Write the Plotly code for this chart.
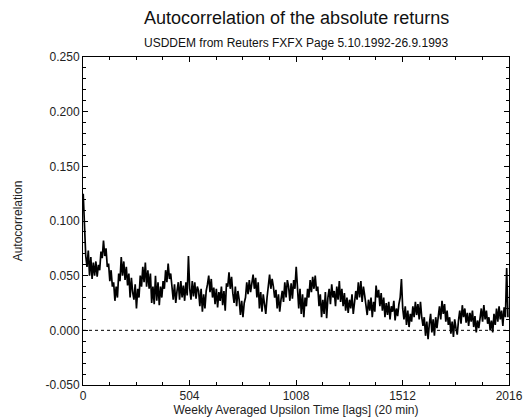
import plotly.graph_objects as go

lag_step = 6
first_lag = 1
acf_milli = [
    125, 90, 68, 58, 73, 50, 67, 47,
    62, 50, 63, 49, 60, 55, 72, 66,
    82, 68, 75, 58, 61, 45, 55, 40,
    44, 27, 40, 30, 52, 45, 67, 50,
    63, 46, 58, 41, 52, 30, 48, 35,
    28, 42, 20, 38, 30, 50, 40, 58,
    44, 62, 40, 55, 38, 52, 25, 40,
    24, 50, 27, 44, 23, 40, 30, 45,
    38, 55, 44, 61, 47, 52, 40, 28,
    42, 25, 36, 44, 28, 45, 30, 41,
    27, 44, 32, 68, 38, 28, 45, 31,
    44, 29, 40, 36, 22, 38, 17, 33,
    20, 36, 42, 50, 35, 47, 30, 39,
    24, 38, 21, 35, 27, 40, 23, 36,
    18, 43, 40, 53, 38, 49, 34, 25,
    40, 22, 36, 28, 14, 27, 12, 25,
    30, 44, 33, 46, 35, 42, 51, 38,
    48, 30, 44, 20, 35, 17, 33, 24,
    15, 30, 42, 51, 38, 47, 40, 30,
    37, 20, 33, 17, 28, 36, 26, 44,
    30, 46, 40, 27, 43, 29, 46, 38,
    58, 35, 20, 38, 15, 33, 12, 30,
    22, 38, 30, 46, 35, 49, 38, 50,
    36, 40, 22, 33, 12, 28, 15, 35,
    11, 30, 38, 24, 42, 30, 36, 22,
    40, 28, 45, 26, 38, 22, 34, 18,
    30, 16, 28, 20, 33, 15, 26, 36,
    28, 44, 30, 45, 26, 40, 32, 24,
    14, 28, 18, 30, 12, 26, 17, 41,
    30, 37, 22, 34, 18, 30, 12, 25,
    14, 26, 10, 22, 17, 27, 9, 20,
    13, 24, 30, 47, 20, 10, 22, 5,
    18, 3, 15, 8, 22, 12, 26, 14,
    24, 10, 26, 12, 4, 12, -5, 8,
    -8, 6, 15, -2, 10, -5, 12, 2,
    14, 22, 10, 27, 15, 24, 8, 18,
    5, 12, -3, 8, -6, 10, 2, -4,
    9, 18, 6, 23, 12, 20, 7, 16,
    4, 16, 8, 18, 3, 13, -2, 9,
    2, 14, 20, 8, 23, 10, 18, 6,
    12, 0, 9, -2, 15, 5, 20, 8,
    22, 10, 18, 4, 21, 12, 57, 12,
]
lags = [first_lag + lag_step * i for i in range(len(acf_milli))]
acf = [v / 1000 for v in acf_milli]

x_ticks = [0, 504, 1008, 1512, 2016]
y_ticks = [-0.05, 0.0, 0.05, 0.10, 0.15, 0.20, 0.25]
y_tick_labels = ["-0.050", "0.000", "0.050", "0.100", "0.150", "0.200", "0.250"]

title = "Autocorrelation of the absolute returns"
subtitle = "USDDEM from Reuters FXFX Page 5.10.1992-26.9.1993"
x_title = "Weekly Averaged Upsilon Time [lags] (20 min)"
y_title = "Autocorrelation"

FONT = "Liberation Sans, Arial, Helvetica, sans-serif"

fig = go.Figure()
fig.add_trace(go.Scatter(x=lags, y=acf, mode="lines",
                         line=dict(color="black", width=1.7), showlegend=False,
                         hoverinfo="skip"))

fig.add_shape(type="line", xref="paper", yref="y", x0=0, x1=1, y0=0, y1=0,
              line=dict(color="black", width=1, dash="dot"))

fig.update_layout(
    width=526, height=420,
    margin=dict(l=83, r=17, t=57, b=35, autoexpand=False),
    paper_bgcolor="white", plot_bgcolor="white",
    font=dict(family=FONT, size=12, color="#222"),
    annotations=[
        dict(text=title, xref="paper", yref="paper", x=0.5, y=1, yshift=39,
             showarrow=False, font=dict(size=18, color="#111"),
             xanchor="center", yanchor="middle"),
        dict(text=subtitle, xref="paper", yref="paper", x=0.5, y=1, yshift=14,
             showarrow=False, font=dict(size=12, color="#111"),
             xanchor="center", yanchor="middle"),
    ],
)

fig.update_xaxes(
    range=[0, 2016], tickvals=x_ticks, ticktext=[str(t) for t in x_ticks],
    showgrid=False, zeroline=False, showline=True, linecolor="black", linewidth=1,
    mirror="ticks", ticks="inside", ticklen=5, tickcolor="black",
    minor=dict(dtick=126, tick0=0, ticks="inside", ticklen=3, tickcolor="black", showgrid=False),
    title=dict(text=x_title, font=dict(size=12), standoff=3),
    tickfont=dict(size=12), ticklabeloverflow="allow",
)
fig.update_yaxes(
    range=[-0.05, 0.25], tickvals=y_ticks, ticktext=y_tick_labels,
    showgrid=False, zeroline=False, showline=True, linecolor="black", linewidth=1,
    mirror="ticks", ticks="inside", ticklen=5, tickcolor="black",
    minor=dict(dtick=0.01, tick0=0, ticks="inside", ticklen=3, tickcolor="black", showgrid=False),
    title=dict(text=y_title, font=dict(size=12), standoff=20),
    tickfont=dict(size=12),
)

# remove the page's default body margin so the 526x420 figure fills the window exactly
fig.write_html(
    "out.html",
    config={"displayModeBar": False, "staticPlot": True},
    post_script="document.body.style.margin='0';document.documentElement.style.overflow='hidden';",
)
